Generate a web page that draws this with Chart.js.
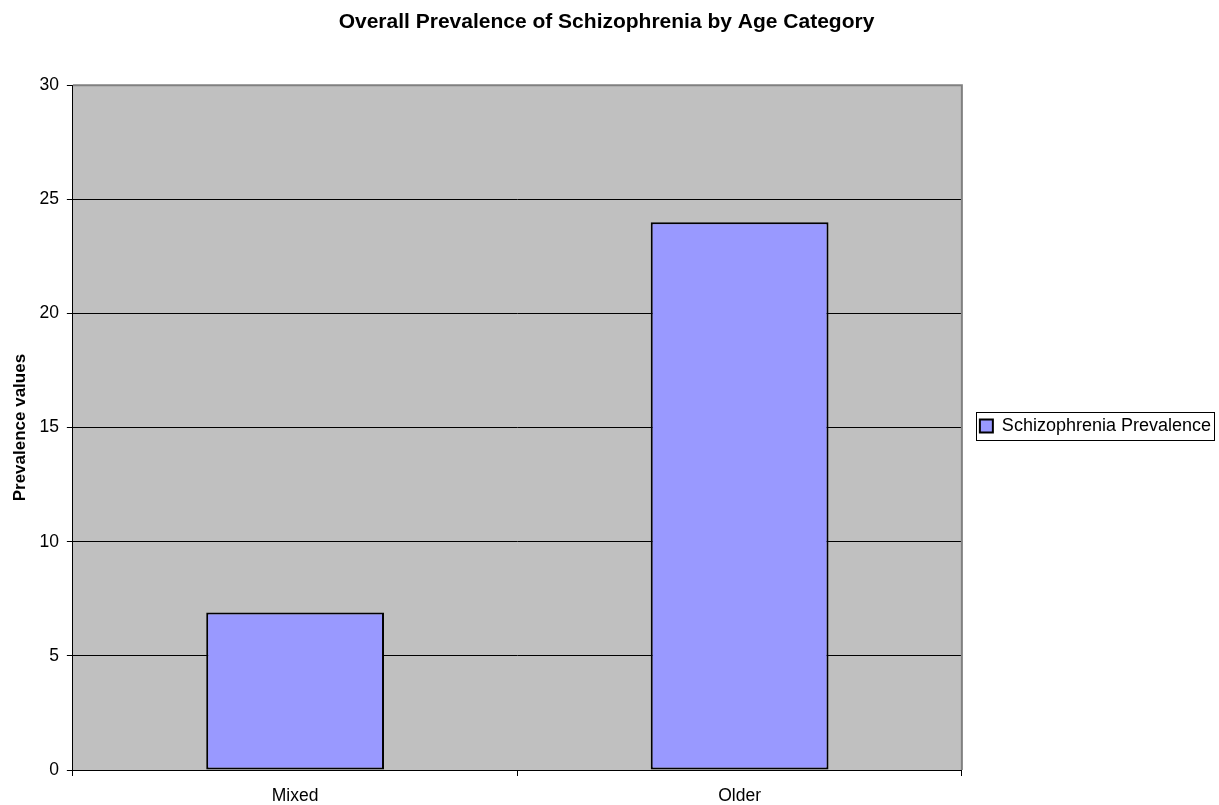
<!DOCTYPE html>
<html>
<head>
<meta charset="utf-8">
<script src="https://cdn.jsdelivr.net/npm/chart.js@4.4.0/dist/chart.umd.min.js"></script>
<style>
  html, body { margin: 0; padding: 0; background: #fff; }
  #wrap { width: 1219px; height: 805px; }
</style>
</head>
<body>
<div id="wrap"><canvas id="chart" width="1219" height="805"></canvas></div>
<script>
const categories = ['Mixed', 'Older'];
const prevalence = [6.9, 24];
const seriesName = 'Schizophrenia Prevalence';
const yTicks = [0, 5, 10, 15, 20, 25, 30];

// grey plot background + grey top/right border, box round the legend
const plotFrame = {
    id: 'plotFrame',
    afterLayout(chart) {
        const a = chart.chartArea;
        const lg = chart.legend;
        const pad = lg.options.labels.padding;
        const h = lg.bottom - lg.top;
        // legend sits level with the middle of the plot, a bit right of it
        const top = Math.round((a.top + a.bottom) / 2 - 1.5 - 9) - pad;
        lg.top = top;
        lg.bottom = top + h;
        lg.left += 8;
        lg.right += 8;
        if (chart.titleBlock) {
            chart.titleBlock.left -= 5;
            chart.titleBlock.right -= 5;
        }
    },
    beforeDraw(chart) {
        const { ctx, chartArea: a } = chart;
        ctx.save();
        ctx.fillStyle = '#c0c0c0';
        ctx.fillRect(a.left, a.top, a.right - a.left, a.bottom - a.top);
        ctx.restore();
    },
    afterDraw(chart) {
        const { ctx, chartArea: a } = chart;
        ctx.save();
        ctx.strokeStyle = '#808080';
        ctx.lineWidth = 2;
        ctx.beginPath();
        ctx.moveTo(a.left, a.top);
        ctx.lineTo(a.right, a.top);
        ctx.lineTo(a.right, a.bottom);
        ctx.stroke();

        const hb = chart.legend.legendHitBoxes[0];
        if (hb) {
            ctx.strokeStyle = '#000';
            ctx.lineWidth = 1;
            ctx.strokeRect(Math.round(hb.left) - 3.5, Math.round(hb.top) - 4.5,
                Math.round(hb.width) + 7, hb.height + 10);
        }
        ctx.restore();
    }
};

new Chart(document.getElementById('chart'), {
    type: 'bar',
    data: {
        labels: categories,
        datasets: [{
            label: seriesName,
            data: prevalence,
            backgroundColor: '#9999ff',
            borderColor: '#000',
            borderWidth: 2,
            borderSkipped: false,
            barPercentage: 0.4,
            categoryPercentage: 1
        }]
    },
    options: {
        responsive: false,
        animation: false,
        layout: { padding: { left: 10, right: 6, top: 0, bottom: -12 } },
        scales: {
            x: {
                offset: true,
                grid: { offset: true, drawOnChartArea: false, color: '#000', tickLength: 6, lineWidth: 1 },
                border: { color: '#000', width: 1 },
                ticks: { color: '#000', font: { family: 'Arial, Liberation Sans', size: 17.5 }, padding: 10 }
            },
            y: {
                min: 0,
                max: 30,
                afterBuildTicks(axis) { axis.ticks = yTicks.map(v => ({ value: v })); },
                grid: { color: '#000', tickLength: 6, lineWidth: 1 },
                border: { color: '#000', width: 1 },
                ticks: { color: '#000', font: { family: 'Arial, Liberation Sans', size: 17.5 }, padding: 8 },
                title: {
                    display: true,
                    text: 'Prevalence values',
                    color: '#000',
                    font: { family: 'Arial, Liberation Sans', size: 17, weight: 'bold' },
                    padding: { top: 0, bottom: 1 }
                }
            }
        },
        plugins: {
            title: {
                display: true,
                text: 'Overall Prevalence of Schizophrenia by Age Category',
                color: '#000',
                font: { family: 'Arial, Liberation Sans', size: 21, weight: 'bold' },
                padding: { top: 10, bottom: 50 }
            },
            legend: {
                position: 'right',
                align: 'start',
                labels: {
                    color: '#000',
                    font: { family: 'Arial, Liberation Sans', size: 18 },
                    boxWidth: 13,
                    boxHeight: 13,
                    padding: 10,
                    useBorderRadius: false
                }
            },
            tooltip: { enabled: false }
        }
    },
    plugins: [plotFrame]
});
</script>
</body>
</html>
